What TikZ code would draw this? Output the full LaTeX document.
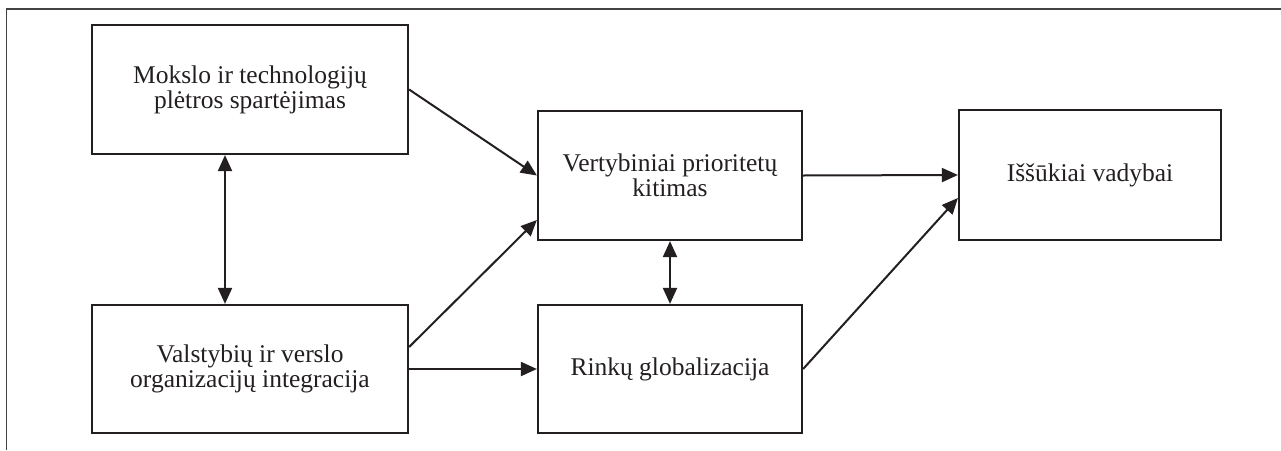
\documentclass[tikz,border=0pt]{standalone}
\usepackage{fontspec}
\setmainfont{Liberation Serif}
\usetikzlibrary{arrows.meta}
\definecolor{ink}{HTML}{231F20}
\begin{document}
\begin{tikzpicture}[x=1pt,y=-1pt,
  box/.style={draw=ink, line width=2.2pt, inner sep=0pt, align=center, text=ink,
    font=\fontsize{25.5}{25}\selectfont},
  conn/.style={draw=ink, line width=2pt, -{Triangle[length=16pt,width=14pt]}},
  bconn/.style={draw=ink, line width=2pt, {Triangle[length=16pt,width=14pt]}-{Triangle[length=16pt,width=14pt]}},
  frame/.style={draw=ink!85, line width=1.8pt}]
\useasboundingbox (0,0) rectangle (1281,450);
\coordinate (ftr) at (1281,9);
\coordinate (ftl) at (6.5,9);
\coordinate (fbl) at (6.5,450);
\draw[frame] (ftr) -- (ftl) -- (fbl);

\node[box, minimum width=316pt, minimum height=129pt] (A) at (250,89.5)
  {Mokslo ir technologijų\\plėtros spartėjimas};
\node[box, minimum width=316pt, minimum height=128pt] (B) at (250,369)
  {Valstybių ir verslo\\organizacijų integracija};
\node[box, minimum width=264pt, minimum height=129pt] (C) at (670,175.5)
  {Vertybiniai prioritetų\\kitimas};
\node[box, minimum width=264pt, minimum height=128pt] (D) at (670,369)
  {Rinkų globalizacija};
\node[box, minimum width=262pt, minimum height=130pt] (E) at (1090,175)
  {Iššūkiai vadybai};

\draw[conn] (A.east) -- (C.west);
\draw[conn] ([yshift=22pt]B.east) -- ([yshift=-44.5pt]C.west);
\draw[conn] (B.east) -- (D.west);
\draw[conn] (C.east) -- (E.west);
\draw[conn] (D.east) -- ([yshift=-23pt]E.west);
\draw[bconn] (C.south) -- (D.north);
\draw[bconn] ([xshift=-25pt]A.south) -- ([xshift=-25pt]B.north);
\end{tikzpicture}
\end{document}
